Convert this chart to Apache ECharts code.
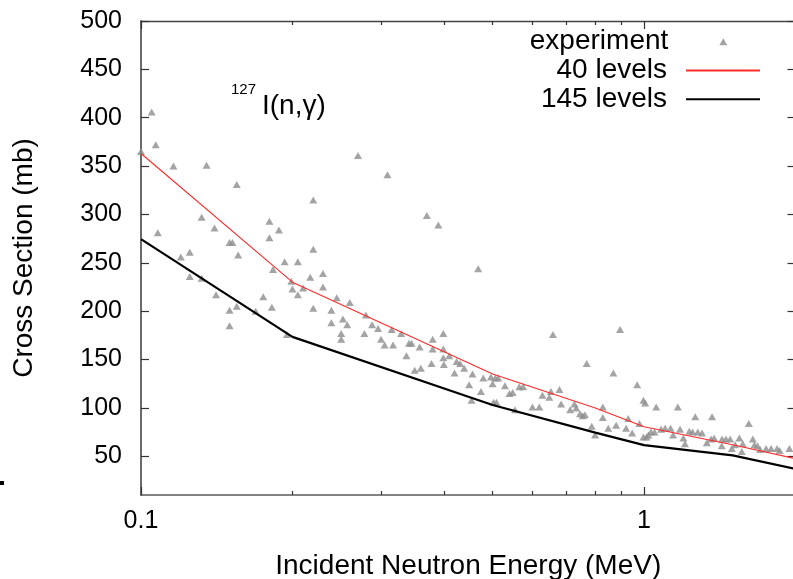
<!DOCTYPE html>
<html><head><meta charset="utf-8">
<script src="https://cdn.jsdelivr.net/npm/echarts@6/dist/echarts.min.js"></script>
<style>html,body{margin:0;padding:0;background:#fff}#c{width:793px;height:579px}</style>
</head><body><div id="c"></div>
<script>
// ---- data ----
const expEnergy = [0.1,0.105,0.107,0.108,0.116,0.120,0.125,0.125,0.132,0.132,0.135,0.140,0.141,0.150,0.152,0.150,0.150,0.155,0.155,0.156,
0.169,0.175,0.180,0.180,0.182,0.183,0.188,0.193,0.195,0.199,0.200,0.205,0.205,0.210,0.217,0.220,0.220,0.220,0.230,0.230,
0.239,0.239,0.245,0.250,0.250,0.252,0.257,0.260,0.270,0.278,0.280,0.288,0.296,0.300,0.305,0.309,0.315,0.317,0.329,0.337,
0.341,0.345,0.350,0.358,0.360,0.370,0.378,0.380,0.380,0.390,0.399,0.399,0.399,0.400,0.410,0.420,0.424,0.431,0.439,0.449,
0.454,0.456,0.468,0.474,0.479,0.496,0.506,0.513,0.500,0.502,0.509,0.529,0.540,0.548,0.554,0.565,0.575,0.600,0.619,0.628,
0.648,0.653,0.659,0.679,0.684,0.713,0.727,0.733,0.746,0.755,0.763,0.769,0.787,0.799,0.828,0.828,0.849,0.869,0.880,0.896,
0.921,0.930,0.947,0.969,0.997,1.005,0.997,1.011,1.020,1.032,1.049,1.057,1.081,1.101,1.129,1.142,1.167,1.179,1.197,1.206,
1.230,1.249,1.279,1.304,1.264,1.333,1.359,1.365,1.378,1.429,1.427,1.455,1.483,1.494,1.517,1.547,1.571,1.564,1.615,1.645,
1.657,1.681,1.701,1.748,1.789,1.838,1.860,1.945,0.979];
const expCross = [365,406,372,281,350,256,261,236,297,234,351,286,217,271,271,201,185,331,205,258,
200,215,293,276,204,243,284,251,176,231,223,251,217,224,235,315,264,203,239,225,
201,188,214,177,171,192,186,209,361,177,196,186,182,171,165,341,181,165,177,154,
167,167,139,163,141,299,146,171,161,289,177,161,152,145,154,136,148,146,141,124,
108,135,244,117,131,132,131,131,125,106,106,123,115,116,98,122,122,101,101,113,
111,117,176,119,104,98,104,100,94,92,93,146,81,72,101,90,79,136,82,181,
79,89,74,124,108,105,70,70,72,75,75,101,78,79,79,72,101,78,69,63,
76,75,75,74,91,64,68,91,69,68,61,68,68,58,62,69,63,55,84,68,
62,61,57,58,58,58,56,58,84];
const modelEnergy = [0.1, 0.2, 0.5, 0.8, 1, 1.5, 2];
const levels40  = [363, 230, 135, 100, 80.5, 62, 47.5];
const levels145 = [274.5, 173.5, 103, 74.5, 61.5, 51, 37];
const yTickValues = [50,100,150,200,250,300,350,400,450,500];
const xMajorTicks = [0.1, 1];
const xMinorTicks = [0.2,0.3,0.4,0.5,0.6,0.7,0.8,0.9,2];
const seriesNames = ['experiment', '40 levels', '145 levels'];

// ---- chart ----
const FONT = '"Liberation Sans", Arial, Helvetica, sans-serif';
const chart = echarts.init(document.getElementById('c'), null, {renderer: 'canvas'});
const expData = expEnergy.map((e, i) => [e, expCross[i]]);
const d40 = modelEnergy.map((e, i) => [e, levels40[i]]);
const d145 = modelEnergy.map((e, i) => [e, levels145[i]]);

function xAx(opts) {
  return Object.assign({
    type: 'log', logBase: 10, min: 0.1, max: 2, gridIndex: 0,
    splitLine: {show: false}, axisLabel: {show: false},
    axisLine: {show: false}, axisTick: {show: false}
  }, opts);
}

const option = {
  animation: false,
  backgroundColor: '#fff',
  grid: {left: 141, top: 21, width: 654.5, height: 474, containLabel: false, outerBoundsMode: 'none'},
  xAxis: [
    xAx({position: 'bottom', name: 'Incident Neutron Energy (MeV)', nameLocation: 'middle', nameGap: 57,
      nameTextStyle: {fontSize: 28, fontFamily: FONT, color: '#000'},
      axisLine: {show: true, lineStyle: {color: '#5a5a5a', width: 1.6}},
      axisTick: {show: true, inside: true, length: 8, customValues: xMajorTicks, lineStyle: {color: '#333', width: 1.2}},
      axisLabel: {show: true, customValues: xMajorTicks, margin: 14, fontSize: 25, fontFamily: FONT, color: '#000',
        formatter: v => String(v)}}),
    xAx({position: 'bottom',
      axisTick: {show: true, inside: true, length: 4, customValues: xMinorTicks, lineStyle: {color: '#333', width: 1.2}}}),
    xAx({position: 'top',
      axisLine: {show: true, lineStyle: {color: '#444', width: 1.3}},
      axisTick: {show: true, inside: true, length: 8, customValues: xMajorTicks, lineStyle: {color: '#333', width: 1.2}}}),
    xAx({position: 'top',
      axisTick: {show: true, inside: true, length: 4, customValues: xMinorTicks, lineStyle: {color: '#333', width: 1.2}}})
  ],
  yAxis: [
    {type: 'value', position: 'left', min: 10, max: 500, splitLine: {show: false},
      name: 'Cross Section (mb)', nameLocation: 'middle', nameGap: 103,
      nameTextStyle: {fontSize: 28, fontFamily: FONT, color: '#000'},
      axisLine: {show: true, lineStyle: {color: '#5a5a5a', width: 1.8}},
      axisTick: {show: true, inside: true, length: 8, customValues: yTickValues, lineStyle: {color: '#333', width: 1.2}},
      axisLabel: {show: true, customValues: yTickValues, margin: 19, fontSize: 25, fontFamily: FONT, color: '#000'}},
    {type: 'value', position: 'right', min: 10, max: 500, splitLine: {show: false},
      axisLine: {show: true, lineStyle: {color: '#5a5a5a', width: 1.6}},
      axisTick: {show: true, inside: true, length: 8, customValues: yTickValues, lineStyle: {color: '#333', width: 1.2}},
      axisLabel: {show: false}}
  ],
  legend: [
    {data: [{name: seriesNames[0], icon: 'triangle'}], orient: 'vertical', align: 'right', right: 65.7, top: 27.7,
      itemWidth: 8, itemHeight: 7, padding: 0, selectedMode: false,
      textStyle: {fontSize: 28, fontFamily: FONT, color: '#000', padding: [0, 46, 0, 0]}},
    {data: [seriesNames[1]], orient: 'vertical', align: 'right', right: 32, top: 56.5,
      itemWidth: 74, itemHeight: 14, padding: 0, selectedMode: false, itemStyle: {opacity: 0},
      textStyle: {fontSize: 28, fontFamily: FONT, color: '#000', padding: [0, 14, 0, 0]}},
    {data: [seriesNames[2]], orient: 'vertical', align: 'right', right: 32, top: 85.3,
      itemWidth: 74, itemHeight: 14, padding: 0, selectedMode: false, itemStyle: {opacity: 0},
      textStyle: {fontSize: 28, fontFamily: FONT, color: '#000', padding: [0, 14, 0, 0]}}
  ],
  graphic: [
    {type: 'text', left: 231, top: 82, style: {text: '127', font: '15px ' + FONT, fill: '#000'}},
    {type: 'text', left: 262, top: 92, style: {text: 'I(n,γ)', font: '28px ' + FONT, fill: '#000'}},
    {type: 'rect', shape: {x: 0, y: 481, width: 4, height: 4}, style: {fill: '#000'}}
  ],
  series: [
    {name: seriesNames[0], type: 'scatter', data: expData, xAxisIndex: 0, yAxisIndex: 0,
      symbol: 'triangle', symbolSize: [8, 7], clip: false,
      itemStyle: {color: '#8d8d8d'}},
    {name: seriesNames[1], type: 'line', data: d40, xAxisIndex: 0, yAxisIndex: 0,
      symbol: 'none', lineStyle: {color: '#ff2a2a', width: 1.1}, itemStyle: {color: '#ff2a2a'}},
    {name: seriesNames[2], type: 'line', data: d145, xAxisIndex: 0, yAxisIndex: 0,
      symbol: 'none', lineStyle: {color: '#000', width: 2.2}, itemStyle: {color: '#000'}}
  ]
};
chart.setOption(option);
</script>
</body></html>
